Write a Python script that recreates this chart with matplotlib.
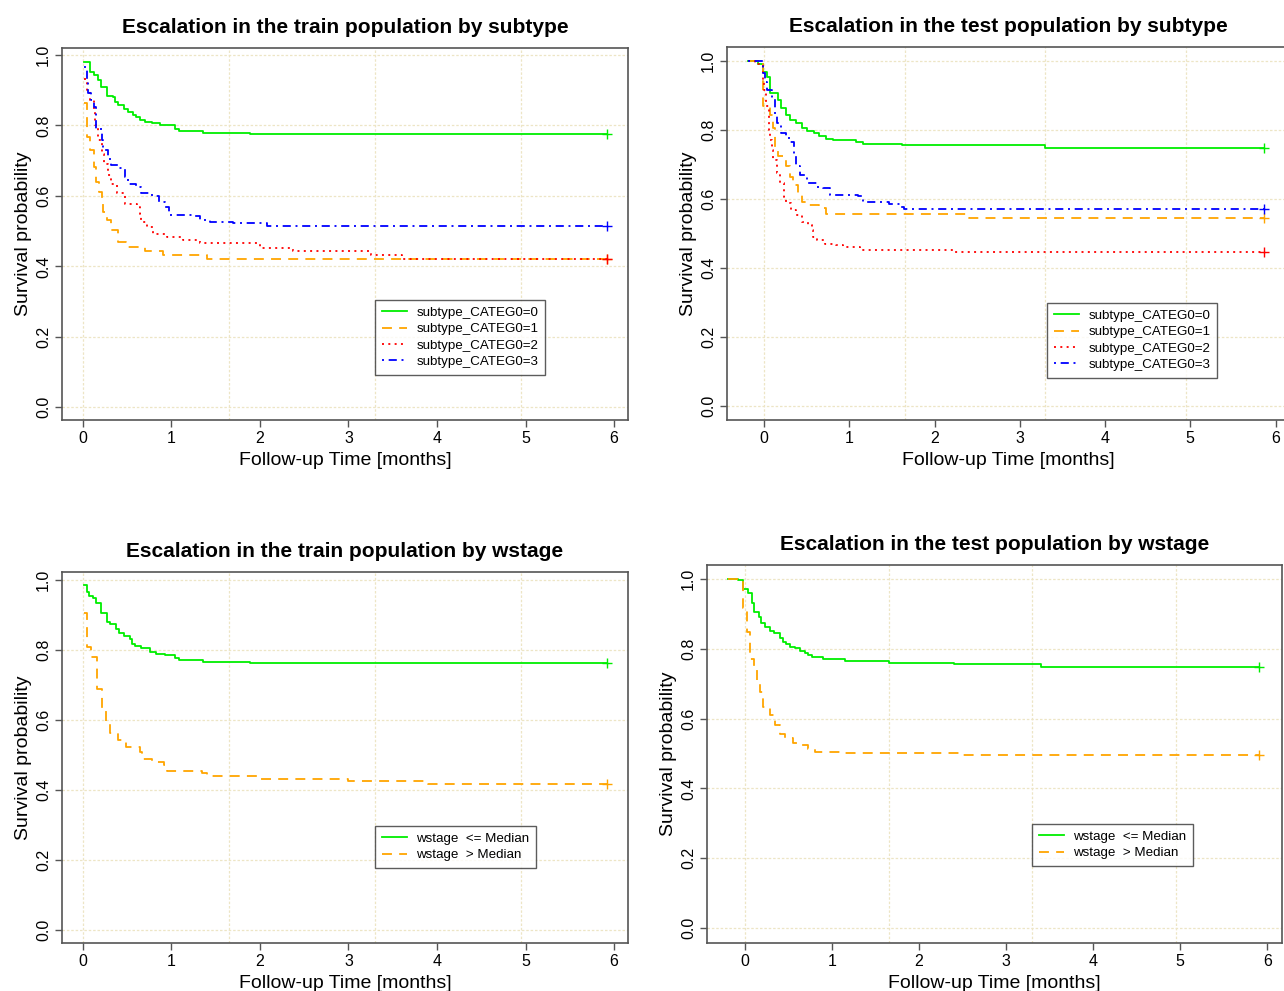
import matplotlib
matplotlib.use("Agg")
import matplotlib.pyplot as plt

plt.rcParams['font.family'] = ['Liberation Sans', 'DejaVu Sans']

W, H = 1284, 991

# ---- data (time [months], survival) ----
# train, by subtype
tr_sub_t0 = [0.01, 0.08, 0.12, 0.17, 0.2, 0.27, 0.34, 0.36, 0.4, 0.46, 0.51, 0.57, 0.6, 0.64, 0.7, 0.78, 0.87, 1.04, 1.08, 1.36, 1.89, 5.92]
tr_sub_s0 = [0.981, 0.953, 0.943, 0.929, 0.91, 0.883, 0.88, 0.867, 0.858, 0.848, 0.839, 0.829, 0.823, 0.815, 0.81, 0.806, 0.801, 0.791, 0.785, 0.78, 0.775, 0.775]
tr_sub_t1 = [0.01, 0.04, 0.08, 0.12, 0.15, 0.18, 0.21, 0.23, 0.27, 0.32, 0.4, 0.49, 0.7, 0.9, 1.4, 3.3, 5.92]
tr_sub_s1 = [0.864, 0.768, 0.73, 0.682, 0.64, 0.611, 0.578, 0.554, 0.531, 0.502, 0.469, 0.455, 0.443, 0.431, 0.422, 0.42, 0.42]
tr_sub_t2 = [0.01, 0.04, 0.08, 0.12, 0.14, 0.17, 0.21, 0.24, 0.28, 0.32, 0.38, 0.47, 0.61, 0.64, 0.66, 0.72, 0.79, 0.95, 1.13, 1.32, 2.0, 2.37, 3.25, 3.6, 5.92]
tr_sub_s2 = [0.931, 0.9, 0.872, 0.844, 0.801, 0.758, 0.72, 0.692, 0.659, 0.635, 0.607, 0.578, 0.568, 0.55, 0.526, 0.512, 0.493, 0.483, 0.476, 0.466, 0.453, 0.445, 0.433, 0.422, 0.422]
tr_sub_t3 = [0.01, 0.04, 0.06, 0.09, 0.12, 0.15, 0.21, 0.23, 0.28, 0.32, 0.4, 0.47, 0.51, 0.6, 0.66, 0.78, 0.86, 0.93, 0.97, 1.25, 1.32, 1.43, 1.7, 2.08, 5.92]
tr_sub_s3 = [0.965, 0.927, 0.891, 0.872, 0.853, 0.791, 0.758, 0.73, 0.706, 0.687, 0.678, 0.654, 0.635, 0.625, 0.607, 0.599, 0.583, 0.568, 0.545, 0.542, 0.533, 0.526, 0.523, 0.516, 0.516]

# test, by subtype
te_sub_t0 = [-0.19, -0.07, -0.01, 0.03, 0.07, 0.16, 0.2, 0.26, 0.3, 0.38, 0.44, 0.5, 0.59, 0.65, 0.73, 0.81, 1.08, 1.16, 1.62, 3.3, 5.87]
te_sub_s0 = [1.0, 0.99, 0.969, 0.953, 0.906, 0.887, 0.864, 0.843, 0.829, 0.82, 0.806, 0.798, 0.791, 0.781, 0.773, 0.771, 0.766, 0.759, 0.755, 0.748, 0.748]
te_sub_t1 = [-0.19, -0.01, 0.07, 0.11, 0.13, 0.17, 0.26, 0.3, 0.34, 0.4, 0.44, 0.52, 0.65, 0.73, 2.4, 5.87]
te_sub_s1 = [1.0, 0.868, 0.843, 0.805, 0.747, 0.723, 0.694, 0.665, 0.641, 0.617, 0.592, 0.583, 0.574, 0.557, 0.545, 0.545]
te_sub_t2 = [-0.19, -0.1, -0.01, 0.0, 0.02, 0.06, 0.07, 0.09, 0.11, 0.15, 0.19, 0.23, 0.26, 0.32, 0.38, 0.44, 0.52, 0.56, 0.58, 0.62, 0.72, 0.84, 0.93, 1.13, 2.22, 5.87]
te_sub_s2 = [1.0, 0.99, 0.945, 0.916, 0.868, 0.8, 0.771, 0.742, 0.713, 0.674, 0.645, 0.607, 0.588, 0.568, 0.554, 0.534, 0.525, 0.51, 0.491, 0.481, 0.471, 0.467, 0.462, 0.452, 0.445, 0.445]
te_sub_t3 = [-0.19, -0.01, 0.01, 0.04, 0.09, 0.13, 0.15, 0.2, 0.26, 0.3, 0.35, 0.38, 0.42, 0.5, 0.62, 0.69, 0.77, 1.1, 1.16, 1.47, 1.6, 1.64, 5.87]
te_sub_s3 = [1.0, 0.964, 0.94, 0.916, 0.892, 0.839, 0.819, 0.79, 0.776, 0.766, 0.723, 0.694, 0.67, 0.647, 0.636, 0.631, 0.612, 0.609, 0.592, 0.586, 0.578, 0.571, 0.571]

# train, by wstage
tr_ws_t0 = [0.01, 0.04, 0.07, 0.11, 0.15, 0.2, 0.27, 0.3, 0.37, 0.41, 0.46, 0.53, 0.55, 0.59, 0.66, 0.76, 0.83, 0.93, 1.04, 1.08, 1.36, 1.89, 5.92]
tr_ws_s0 = [0.986, 0.967, 0.954, 0.948, 0.935, 0.907, 0.881, 0.874, 0.859, 0.849, 0.84, 0.831, 0.817, 0.811, 0.805, 0.795, 0.79, 0.786, 0.778, 0.771, 0.767, 0.763, 0.763]
tr_ws_t1 = [0.01, 0.04, 0.09, 0.16, 0.21, 0.26, 0.31, 0.4, 0.49, 0.64, 0.67, 0.78, 0.91, 0.95, 1.34, 1.4, 2.0, 3.0, 3.9, 5.92]
tr_ws_s1 = [0.907, 0.81, 0.781, 0.69, 0.629, 0.595, 0.562, 0.543, 0.524, 0.509, 0.49, 0.481, 0.471, 0.455, 0.449, 0.44, 0.433, 0.425, 0.418, 0.418]

# test, by wstage
te_ws_t0 = [-0.2, -0.08, -0.02, 0.04, 0.08, 0.1, 0.16, 0.19, 0.23, 0.29, 0.33, 0.4, 0.44, 0.47, 0.52, 0.57, 0.63, 0.69, 0.73, 0.77, 0.9, 1.15, 1.65, 2.4, 3.4, 5.91]
te_ws_s0 = [1.0, 0.997, 0.97, 0.959, 0.932, 0.906, 0.89, 0.873, 0.863, 0.852, 0.844, 0.83, 0.82, 0.813, 0.806, 0.801, 0.794, 0.787, 0.782, 0.777, 0.771, 0.766, 0.76, 0.755, 0.748, 0.748]
te_ws_t1 = [-0.2, -0.02, 0.02, 0.06, 0.1, 0.14, 0.17, 0.21, 0.29, 0.34, 0.4, 0.46, 0.55, 0.63, 0.73, 0.8, 1.13, 2.5, 5.91]
te_ws_s1 = [1.0, 0.916, 0.849, 0.772, 0.739, 0.71, 0.677, 0.634, 0.61, 0.581, 0.557, 0.543, 0.53, 0.524, 0.514, 0.504, 0.5, 0.495, 0.495]

sub_labels = ["subtype_CATEG0=0", "subtype_CATEG0=1", "subtype_CATEG0=2", "subtype_CATEG0=3"]
ws_labels = ["wstage  <= Median", "wstage  > Median"]
x_ticks = [0, 1, 2, 3, 4, 5, 6]
y_ticks = [0.0, 0.2, 0.4, 0.6, 0.8, 1.0]

# R-like colours / line types
COLS = ["#00EE00", "#FFA500", "#FF0000", "#0000FF"]
LTYS = ["-", (0, (5.5, 4)), (0, (1.1, 2.4)), (0, (1.1, 2.6, 4.5, 2.6))]
GRIDC = "#EDE5C5"
AXC = "#555555"


def px_axes(left, right, top, bottom):
    return [left / W, 1 - bottom / H, (right - left) / W, (bottom - top) / H]


def panel(ax, curves, labels, title, xlim, ylim, leg_xy):
    for i, (t, s) in enumerate(curves):
        ax.step(t, s, where="post", color=COLS[i], ls=LTYS[i], lw=1.3,
                label=labels[i])
        ax.plot(t[-1], s[-1], marker="+", ms=6.5, mew=1.0, color=COLS[i],
                ls="none")
    ax.set_xlim(*xlim)
    ax.set_ylim(*ylim)
    # grid (dotted, light)
    for gx in [0, 1.65, 3.3, 4.95]:
        ax.axvline(gx, color=GRIDC, lw=0.9, ls=(0, (2, 1.5)), zorder=0)
    for gy in y_ticks:
        ax.axhline(gy, color=GRIDC, lw=0.9, ls=(0, (2, 1.5)), zorder=0)
    ax.set_xticks(x_ticks)
    ax.set_xticklabels([str(v) for v in x_ticks])
    ax.set_yticks(y_ticks)
    ax.set_yticklabels([f"{v:.1f}" for v in y_ticks], rotation=90, va="center")
    ax.tick_params(length=5, width=1, color=AXC, labelsize=11.5, pad=3)
    for sp in ax.spines.values():
        sp.set_color(AXC)
        sp.set_linewidth(1.2)
    ax.set_xlabel("Follow-up Time [months]", fontsize=14, labelpad=4)
    ax.set_ylabel("Survival probability", fontsize=14, labelpad=3)
    ax.set_title(title, fontsize=15, fontweight="bold", pad=11)
    leg = ax.legend(loc="upper left",
                    bbox_to_anchor=(leg_xy[0] / W, 1 - leg_xy[1] / H),
                    bbox_transform=fig.transFigure, borderaxespad=0,
                    fontsize=9.6, frameon=True, fancybox=False,
                    handlelength=1.9, handletextpad=0.7, labelspacing=0.3,
                    borderpad=0.5)
    leg.get_frame().set_edgecolor("#333333")
    leg.get_frame().set_linewidth(1.0)


fig = plt.figure(figsize=(W / 100, H / 100), dpi=100)

ax1 = fig.add_axes(px_axes(62, 628, 48, 420))
panel(ax1, [(tr_sub_t0, tr_sub_s0), (tr_sub_t1, tr_sub_s1),
            (tr_sub_t2, tr_sub_s2), (tr_sub_t3, tr_sub_s3)],
      sub_labels, "Escalation in the train population by subtype",
      (-0.237, 6.158), (-0.036, 1.02), (375, 300))

ax2 = fig.add_axes(px_axes(727, 1290, 47, 420))
panel(ax2, [(te_sub_t0, te_sub_s0), (te_sub_t1, te_sub_s1),
            (te_sub_t2, te_sub_s2), (te_sub_t3, te_sub_s3)],
      sub_labels, "Escalation in the test population by subtype",
      (-0.434, 6.17), (-0.04, 1.04), (1047, 303))

ax3 = fig.add_axes(px_axes(62, 628, 572, 943))
panel(ax3, [(tr_ws_t0, tr_ws_s0), (tr_ws_t1, tr_ws_s1)],
      ws_labels, "Escalation in the train population by wstage",
      (-0.237, 6.158), (-0.037, 1.023), (375, 826))

ax4 = fig.add_axes(px_axes(707, 1282, 565, 943))
panel(ax4, [(te_ws_t0, te_ws_s0), (te_ws_t1, te_ws_s1)],
      ws_labels, "Escalation in the test population by wstage",
      (-0.436, 6.17), (-0.043, 1.04), (1032, 824))

fig.savefig("out.png", dpi=100)
